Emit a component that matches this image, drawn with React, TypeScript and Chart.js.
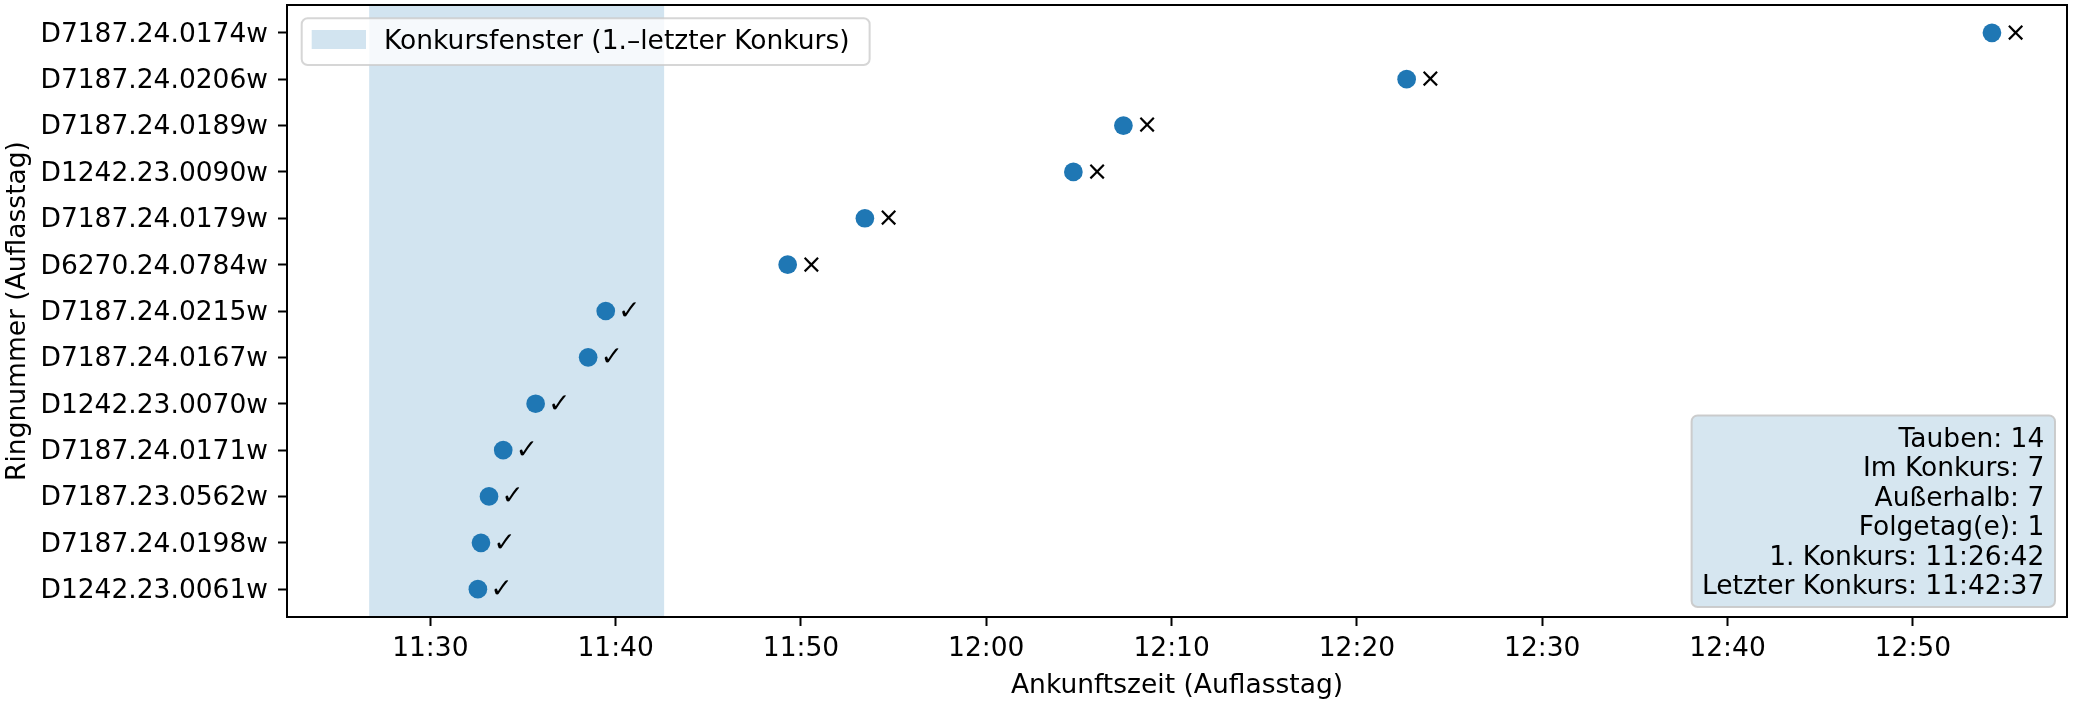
import React, { useEffect, useRef } from "react";
import { Chart, registerables } from "chart.js";

Chart.register(...registerables);

// ---------- data ----------
const ringNumbers = [
  "D7187.24.0174w",
  "D7187.24.0206w",
  "D7187.24.0189w",
  "D1242.23.0090w",
  "D7187.24.0179w",
  "D6270.24.0784w",
  "D7187.24.0215w",
  "D7187.24.0167w",
  "D1242.23.0070w",
  "D7187.24.0171w",
  "D7187.23.0562w",
  "D7187.24.0198w",
  "D1242.23.0061w",
];

const arrivalTimes = [
  "12:54:16",
  "12:22:41",
  "12:07:24",
  "12:04:42",
  "11:53:27",
  "11:49:17",
  "11:39:28",
  "11:38:31",
  "11:35:41",
  "11:33:56",
  "11:33:10",
  "11:32:44",
  "11:32:34",
];

const inWindow = [false, false, false, false, false, false, true, true, true, true, true, true, true];

const windowStart = "11:26:42";
const windowEnd = "11:42:37";

const xAxisMin = "11:22:16";
const xAxisMax = "12:58:19";
const xTickTimes = ["11:30", "11:40", "11:50", "12:00", "12:10", "12:20", "12:30", "12:40", "12:50"];

const statsLines = [
  "Tauben: 14",
  "Im Konkurs: 7",
  "Außerhalb: 7",
  "Folgetag(e): 1",
  "1. Konkurs: 11:26:42",
  "Letzter Konkurs: 11:42:37",
];

const legendLabel = "Konkursfenster (1.–letzter Konkurs)";
const xTitle = "Ankunftszeit (Auflasstag)";
const yTitle = "Ringnummer (Auflasstag)";

// ---------- helpers ----------
const FONT = "DejaVu Sans";
const FS = 26.5;

function toSec(t: string): number {
  const p = t.split(":").map(Number);
  return p[0] * 3600 + p[1] * 60 + (p[2] || 0);
}
function fmt(v: number): string {
  const h = Math.floor(v / 3600);
  const m = Math.round((v - h * 3600) / 60);
  return `${h}:${String(m).padStart(2, "0")}`;
}

const overlayPlugin = {
  id: "overlay",
  beforeDatasetsDraw(chart: any) {
    const { ctx, chartArea: a, scales } = chart;
    const x = scales.x;
    const x0 = x.getPixelForValue(toSec(windowStart));
    const x1 = x.getPixelForValue(toSec(windowEnd));
    ctx.save();
    ctx.fillStyle = "rgba(31,119,180,0.2)";
    ctx.fillRect(x0, a.top, x1 - x0, a.bottom - a.top);
    ctx.restore();
  },
  afterDatasetsDraw(chart: any) {
    const { ctx, chartArea: a, scales } = chart;
    const x = scales.x;
    const y = scales.y;
    ctx.save();
    // markers
    ctx.font = `${FS}px "${FONT}"`;
    ctx.fillStyle = "#000";
    ctx.textAlign = "left";
    ctx.textBaseline = "middle";
    arrivalTimes.forEach((t, i) => {
      const px = x.getPixelForValue(toSec(t));
      const py = y.getPixelForValue(i);
      ctx.fillText(inWindow[i] ? "✓" : "×", px + 12.5, py + 1);
    });

    // spines
    ctx.strokeStyle = "#000";
    ctx.lineWidth = 2;
    ctx.strokeRect(a.left, a.top, a.right - a.left, a.bottom - a.top);

    // stats box
    ctx.font = `${FS}px "${FONT}"`;
    const maxW = Math.max(...statsLines.map((s) => ctx.measureText(s).width));
    const bw = maxW + 21;
    const bh = 191.6;
    const bRight = a.right - 12;
    const bBottom = a.bottom - 10;
    const bLeft = bRight - bw;
    const bTop = bBottom - bh;
    ctx.beginPath();
    ctx.roundRect(bLeft, bTop, bw, bh, 6);
    ctx.fillStyle = "rgba(214,230,240,1)";
    ctx.fill();
    ctx.strokeStyle = "rgba(200,200,200,0.9)";
    ctx.lineWidth = 2;
    ctx.stroke();
    ctx.fillStyle = "#000";
    ctx.textAlign = "right";
    ctx.textBaseline = "alphabetic";
    const n = statsLines.length;
    statsLines.forEach((s, k) => {
      ctx.fillText(s, bRight - 10.7, bBottom - 13 - (n - 1 - k) * 29.4);
    });

    // legend
    const tw = ctx.measureText(legendLabel).width;
    const lx = a.left + 14.7;
    const ly = a.top + 13.3;
    const lw = 82.3 + tw + 20;
    const lh = 46.7;
    ctx.beginPath();
    ctx.roundRect(lx, ly, lw, lh, 6);
    ctx.fillStyle = "rgba(255,255,255,0.8)";
    ctx.fill();
    ctx.strokeStyle = "rgba(204,204,204,0.8)";
    ctx.lineWidth = 2;
    ctx.stroke();
    ctx.fillStyle = "rgba(31,119,180,0.2)";
    ctx.fillRect(lx + 10, ly + 11.7, 54.3, 19);
    ctx.fillStyle = "#000";
    ctx.textAlign = "left";
    ctx.fillText(legendLabel, lx + 82.3, ly + 30.7);
    ctx.restore();
  },
};

export default function App() {
  const ref = useRef<HTMLCanvasElement>(null);
  useEffect(() => {
    document.body.style.margin = "0";
    Chart.defaults.font.family = FONT;
    const chart = new Chart(ref.current as HTMLCanvasElement, {
      type: "scatter",
      data: {
        datasets: [
          {
            data: arrivalTimes.map((t, i) => ({ x: toSec(t), y: i })),
            backgroundColor: "#1f77b4",
            borderWidth: 0,
            pointRadius: 9.35,
            pointHoverRadius: 9.35,
          },
        ],
      },
      options: {
        animation: false,
        responsive: false,
        devicePixelRatio: 1,
        events: [],
        layout: { autoPadding: false, padding: { left: 0, right: 7, top: 5, bottom: 0 } },
        plugins: { legend: { display: false }, tooltip: { enabled: false } },
        scales: {
          x: {
            type: "linear",
            min: toSec(xAxisMin),
            max: toSec(xAxisMax),
            afterBuildTicks: (scale: any) => {
              scale.ticks = xTickTimes.map((t) => ({ value: toSec(t) }));
            },
            afterFit: (scale: any) => {
              scale.height = 85;
            },
            ticks: {
              callback: (v: any) => fmt(Number(v)),
              font: { size: FS, family: FONT },
              color: "#000",
              padding: 7,
              maxRotation: 0,
              autoSkip: false,
            },
            grid: {
              display: true,
              drawOnChartArea: false,
              drawTicks: true,
              tickLength: 9,
              tickWidth: 2,
              tickColor: "#000",
            },
            border: { display: false },
            title: {
              display: true,
              text: xTitle,
              color: "#000",
              font: { size: FS, family: FONT, lineHeight: 1.2 },
              padding: { top: 0, bottom: 0 },
            },
          },
          y: {
            type: "linear",
            reverse: true,
            min: -0.6,
            max: 12.6,
            afterBuildTicks: (scale: any) => {
              scale.ticks = ringNumbers.map((_, i) => ({ value: i }));
            },
            afterFit: (scale: any) => {
              scale.width = 287;
              scale.paddingTop = 0;
              scale.paddingBottom = 0;
            },
            ticks: {
              callback: (v: any) => ringNumbers[Math.round(Number(v))] ?? "",
              font: { size: FS, family: FONT, lineHeight: 0.2 },
              color: "#000",
              padding: 0,
              labelOffset: 2,
              autoSkip: false,
            },
            grid: {
              display: true,
              drawOnChartArea: false,
              drawTicks: true,
              tickLength: 19,
              tickWidth: 2,
              tickColor: "#000",
              tickBorderDash: [9, 10],
              tickBorderDashOffset: 9,
            },
            border: { display: false },
            title: {
              display: true,
              text: yTitle,
              color: "#000",
              font: { size: FS, family: FONT, lineHeight: 1.2 },
              padding: { top: 2, bottom: 0 },
            },
          },
        },
      },
      plugins: [overlayPlugin],
    } as any);
    return () => chart.destroy();
  }, []);
  return (
    <div style={{ width: 2074, height: 702 }}>
      <canvas ref={ref} width={2074} height={702} style={{ display: "block", width: 2074, height: 702 }} />
    </div>
  );
}
